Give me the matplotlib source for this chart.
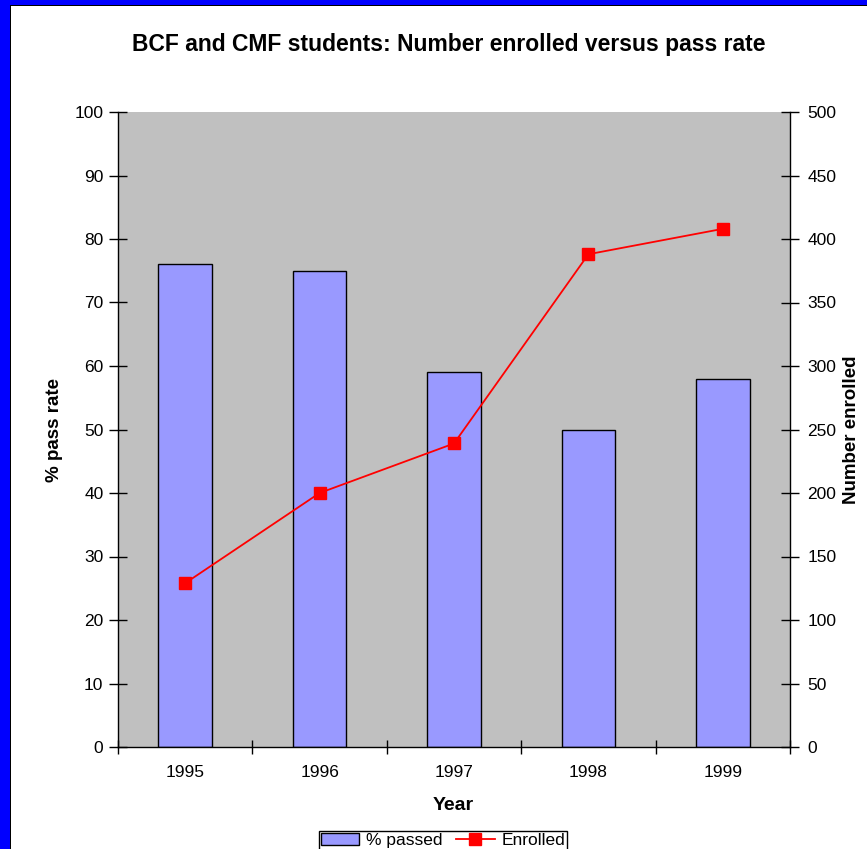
import matplotlib
matplotlib.use("Agg")
import matplotlib.pyplot as plt
from matplotlib.patches import Rectangle

plt.rcParams["font.family"] = ["Liberation Sans", "DejaVu Sans"]

# data
years = ["1995", "1996", "1997", "1998", "1999"]
pass_rate = [76, 75, 59, 50, 58]
enrolled = [129, 200, 239, 388, 408]

BAR_COLOR = "#9999FF"
PLOT_BG = "#C0C0C0"

fig = plt.figure(figsize=(8.67, 8.49), dpi=100)
W, H = 867.0, 849.0

# blue frame along the left and top edge, with a thin black inner line
fig.patches.append(Rectangle((0, 0), 10 / W, 1, transform=fig.transFigure,
                             facecolor="#0000FF", edgecolor="none", zorder=0))
fig.patches.append(Rectangle((0, 1 - 5 / H), 1, 5 / H, transform=fig.transFigure,
                             facecolor="#0000FF", edgecolor="none", zorder=0))
fig.patches.append(Rectangle((10 / W, 0), 1.3 / W, 1 - 5 / H, transform=fig.transFigure,
                             facecolor="black", edgecolor="none", zorder=1))
fig.patches.append(Rectangle((10 / W, 1 - 6.3 / H), 1, 1.3 / H, transform=fig.transFigure,
                             facecolor="black", edgecolor="none", zorder=1))

ax = fig.add_axes([118 / W, 1 - 747 / H, 672 / W, 635 / H])
ax.set_facecolor(PLOT_BG)
x = list(range(len(years)))
bars = ax.bar(x, pass_rate, width=0.4, color=BAR_COLOR, edgecolor="black",
              linewidth=1.0, label="% passed", zorder=2)

ax.set_xlim(-0.5, len(years) - 0.5)
ax.set_ylim(0, 100)
ax.set_yticks(range(0, 101, 10))
ax.set_xticks([i - 0.5 for i in range(len(years) + 1)])
ax.set_xticklabels([])
ax.set_xticks(x, minor=True)
ax.set_xticklabels(years, minor=True)
ax.tick_params(axis="x", which="major", direction="inout", length=10, width=1)
ax.tick_params(axis="x", which="minor", length=0, pad=13, labelsize=12.5)
ax.tick_params(axis="y", direction="inout", length=13, width=1, pad=4, labelsize=12.5)
ax.spines["top"].set_visible(False)
ax.spines["right"].set_visible(False)
for s in ["left", "bottom"]:
    ax.spines[s].set_linewidth(1.0)

ax2 = ax.twinx()
line, = ax2.plot(x, enrolled, color="#FF0000", linewidth=1.3, marker="s",
                 markersize=9, markeredgecolor="#FF0000", label="Enrolled", zorder=3)
ax2.set_ylim(0, 500)
ax2.set_yticks(range(0, 501, 50))
ax2.tick_params(axis="y", direction="inout", length=13, width=1, pad=6, labelsize=12.5)
ax2.spines["top"].set_visible(False)
ax2.spines["left"].set_visible(False)
ax2.spines["bottom"].set_visible(False)
ax2.spines["right"].set_linewidth(1.0)

fig.text(449 / W, 1 - 45 / H, "BCF and CMF students: Number enrolled versus pass rate",
         ha="center", va="center", fontsize=16.5, fontweight="bold")
fig.text(453 / W, 1 - 806 / H, "Year", ha="center", va="center",
         fontsize=14, fontweight="bold")
fig.text(55 / W, 1 - 430 / H, "% pass rate", ha="center", va="center",
         rotation=90, fontsize=13.5, fontweight="bold")
fig.text(852 / W, 1 - 430 / H, "Number enrolled", ha="center", va="center",
         rotation=90, fontsize=13.5, fontweight="bold")

leg = fig.legend([bars, line], ["% passed", "Enrolled"], loc="upper center",
                 bbox_to_anchor=(443 / W, 1 - 822 / H), ncol=2, fontsize=12.5,
                 frameon=True, fancybox=False, framealpha=1, edgecolor="black",
                 borderpad=0.12, handlelength=2.2, handletextpad=0.4,
                 columnspacing=0.8)
leg.get_frame().set_linewidth(1.0)

fig.savefig("out.png", dpi=100, facecolor="white")
